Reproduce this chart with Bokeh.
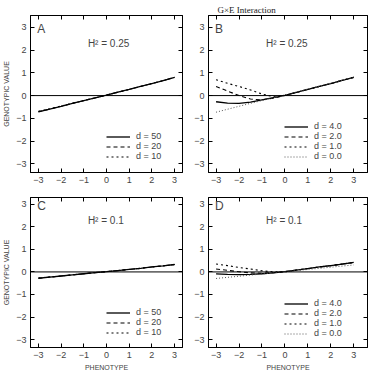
from bokeh.plotting import figure
from bokeh.models import Span, Label, Legend, LegendItem, FixedTicker, LinearAxis, Range1d, Title
from bokeh.layouts import column, row
from bokeh.embed import file_html
from bokeh.resources import INLINE

# ---------------- data ----------------
phenotype = [-3, -2.5, -2, -1.5, -1, -0.5, 0, 0.5, 1, 1.5, 2, 2.5, 3]
ticks = [-3, -2, -1, 0, 1, 2, 3]

# Panel A (H2 = 0.25, large d)
a_d50 = [-0.72, -0.59, -0.47, -0.34, -0.22, -0.10, 0.02, 0.15, 0.27, 0.40, 0.53, 0.66, 0.80]
a_d20 = [-0.71, -0.59, -0.47, -0.34, -0.22, -0.10, 0.02, 0.15, 0.27, 0.40, 0.53, 0.66, 0.80]
a_d10 = [-0.69, -0.58, -0.46, -0.34, -0.22, -0.10, 0.02, 0.15, 0.27, 0.40, 0.53, 0.66, 0.80]
# Panel B (H2 = 0.25, small d)
b_d4 = [-0.27, -0.33, -0.34, -0.29, -0.19, -0.09, 0.01, 0.14, 0.27, 0.40, 0.53, 0.67, 0.80]
b_d2 = [0.40, 0.20, 0.00, -0.15, -0.19, -0.11, 0.01, 0.14, 0.27, 0.40, 0.53, 0.67, 0.80]
b_d1 = [0.70, 0.54, 0.40, 0.25, 0.07, -0.05, 0.01, 0.14, 0.27, 0.40, 0.53, 0.67, 0.80]
b_d0 = [-0.73, -0.60, -0.47, -0.34, -0.22, -0.09, 0.03, 0.16, 0.29, 0.42, 0.55, 0.68, 0.82]
# Panel C (H2 = 0.1, large d)
c_d50 = [-0.28, -0.23, -0.18, -0.13, -0.08, -0.03, 0.01, 0.06, 0.11, 0.16, 0.22, 0.27, 0.33]
c_d20 = [-0.28, -0.23, -0.18, -0.13, -0.08, -0.03, 0.01, 0.06, 0.11, 0.16, 0.22, 0.27, 0.33]
c_d10 = [-0.27, -0.22, -0.18, -0.13, -0.08, -0.03, 0.01, 0.06, 0.11, 0.16, 0.22, 0.27, 0.33]
# Panel D (H2 = 0.1, small d)
d_d4 = [-0.09, -0.11, -0.12, -0.11, -0.08, -0.04, 0.01, 0.08, 0.15, 0.22, 0.28, 0.35, 0.42]
d_d2 = [0.13, 0.07, 0.01, -0.04, -0.06, -0.03, 0.01, 0.08, 0.15, 0.22, 0.28, 0.35, 0.42]
d_d1 = [0.35, 0.28, 0.20, 0.13, 0.05, 0.00, 0.01, 0.08, 0.15, 0.22, 0.28, 0.35, 0.42]
d_d0 = [-0.29, -0.24, -0.19, -0.14, -0.09, -0.04, 0.01, 0.06, 0.11, 0.16, 0.21, 0.26, 0.31]

labels_large = ["d = 50", "d = 20", "d = 10"]
labels_small = ["d = 4.0", "d = 2.0", "d = 1.0", "d = 0.0"]
panel_letters = ["A", "B", "C", "D"]
h2_texts = ["H\u00b2 = 0.25", "H\u00b2 = 0.25", "H\u00b2 = 0.1", "H\u00b2 = 0.1"]
title_text = "G\u00d7E Interaction"
x_title = "PHENOTYPE"
y_title = "GENOTYPIC VALUE"

SANS = "Liberation Sans"
styles = [
    dict(line_color="black", line_width=1.3, line_dash="solid"),
    dict(line_color="black", line_width=1.1, line_dash="4 3"),
    dict(line_color="black", line_width=1.1, line_dash="2 3"),
    dict(line_color="#555555", line_width=1.0, line_dash="1 2"),
]


def make_panel(series, labels, letter, h2, width, height, borders, xr, yr,
               show_x_title, show_y_title, legend_loc, title=None):
    left, right, top, bottom = borders
    p = figure(width=width, height=height, output_backend="svg", toolbar_location=None,
               x_range=Range1d(*xr), y_range=Range1d(*yr),
               min_border_left=left, min_border_right=right,
               min_border_top=top, min_border_bottom=bottom)
    p.outline_line_color = "black"
    p.outline_line_width = 1
    p.grid.visible = False
    p.background_fill_color = "white"
    p.border_fill_color = "white"
    if title is not None:
        p.title = Title(text=title, text_font="Liberation Serif", text_font_size="9px",
                        text_font_style="normal", align="left", offset=9, standoff=2,
                        text_color="#222222")
    for ax in (p.xaxis[0], p.yaxis[0]):
        ax.ticker = FixedTicker(ticks=ticks)
        ax.major_tick_in = 4
        ax.major_tick_out = 0
        ax.minor_tick_line_color = None
        ax.major_label_text_font = SANS
        ax.major_label_text_font_size = "9px"
        ax.major_label_standoff = 4
        ax.axis_line_color = "black"
        ax.axis_label_text_font = SANS
        ax.axis_label_text_font_size = "7px"
        ax.axis_label_text_font_style = "normal"
        ax.axis_label_standoff = 3
    if show_x_title:
        p.xaxis[0].axis_label = x_title
    if show_y_title:
        p.yaxis[0].axis_label = y_title
    # tick marks only (no labels) on the top and right edges
    for place in ("above", "right"):
        ax = LinearAxis(ticker=FixedTicker(ticks=ticks), major_tick_in=4, major_tick_out=0,
                        minor_tick_line_color=None, major_label_text_color=None,
                        major_label_standoff=0, axis_line_color="black")
        p.add_layout(ax, place)

    p.add_layout(Span(location=0, dimension="width", line_color="black", line_width=1))

    items = []
    for ys, lab, st in zip(series, labels, styles):
        r = p.line(phenotype, ys, **st)
        items.append(LegendItem(label=lab, renderers=[r]))
    leg = Legend(items=items, location=legend_loc, border_line_color=None,
                 background_fill_alpha=0, label_text_font=SANS, label_text_font_size="9px",
                 glyph_width=24, glyph_height=9, label_height=9, label_standoff=6,
                 spacing=0, padding=0, margin=0)
    p.add_layout(leg, "center")

    p.add_layout(Label(x=-3.05, y=2.92, text=letter, text_font=SANS, text_font_size="12px",
                       text_baseline="middle", text_align="left"))
    p.add_layout(Label(x=-0.82, y=2.3, text=h2, text_font=SANS, text_font_size="10px",
                       text_baseline="middle", text_align="left"))
    return p


yr_top = (-3.38, 3.52)
yr_bot = (-3.35, 3.3)
pA = make_panel([a_d50, a_d20, a_d10], labels_large, panel_letters[0], h2_texts[0],
                185, 188, (27, 3, 15, 16), (-3.35, 3.35), yr_top, False, True, (76, 11))
pB = make_panel([b_d4, b_d2, b_d1, b_d0], labels_small, panel_letters[1], h2_texts[1],
                190, 188, (23, 8, 15, 16), (-3.33, 3.6), yr_top, False, False, (76, 11),
                title=title_text)
pC = make_panel([c_d50, c_d20, c_d10], labels_large, panel_letters[2], h2_texts[2],
                185, 185, (27, 3, 9, 25), (-3.35, 3.35), yr_bot, True, True, (76, 10))
pD = make_panel([d_d4, d_d2, d_d1, d_d0], labels_small, panel_letters[3], h2_texts[3],
                190, 185, (23, 8, 9, 25), (-3.33, 3.6), yr_bot, True, False, (76, 9))

layout = column(row(pA, pB, spacing=0), row(pC, pD, spacing=0), spacing=0)
open("out.html", "w").write(file_html(layout, INLINE))
